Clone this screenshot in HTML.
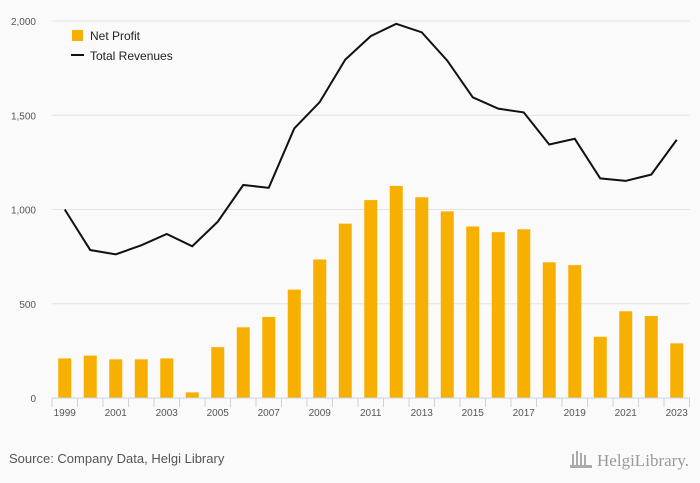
<!DOCTYPE html>
<html><head><meta charset="utf-8"><style>
body{margin:0;background:#fafafa;font-family:"Liberation Sans",sans-serif;}
</style></head><body>
<svg id="c" width="700" height="483" style="display:block">
<rect width="700" height="483" fill="#fafafa"/>
<g id="grid"></g><g id="bars"></g><g id="axis"></g><g id="line"></g>
<g>
<rect x="72" y="30" width="11" height="11" fill="#f7b000"/>
<text x="90" y="40" font-size="12" fill="#222">Net Profit</text>
<line x1="71" y1="55" x2="84" y2="55" stroke="#111" stroke-width="2"/>
<text x="90" y="60" font-size="12" fill="#222">Total Revenues</text>
</g>
<text x="9" y="463" font-size="13" fill="#555">Source: Company Data, Helgi Library</text>
<text x="597" y="466" font-size="17" fill="#999" font-family="Liberation Serif,serif" textLength="92">HelgiLibrary.</text>
<g fill="#aaa"><rect x="572" y="454" width="2" height="12"/><rect x="576" y="451" width="2" height="15"/><rect x="580" y="453" width="2" height="13"/><rect x="584" y="455" width="2" height="11"/><rect x="570" y="465" width="22" height="3"/></g>
</svg>
<script>
const years=[1999,2000,2001,2002,2003,2004,2005,2006,2007,2008,2009,2010,2011,2012,2013,2014,2015,2016,2017,2018,2019,2020,2021,2022,2023];
const netProfit=[210,225,205,205,210,30,270,375,430,575,735,925,1050,1125,1065,990,910,880,895,720,705,325,460,435,290];
const revenues=[1000,785,762,810,870,805,935,1130,1115,1430,1570,1795,1920,1985,1940,1790,1595,1535,1515,1345,1375,1165,1152,1185,1370];
const yTicks=[0,500,1000,1500,2000];
const yTickLabels=["0","500","1,000","1,500","2,000"];
const NS="http://www.w3.org/2000/svg";
const x0=52,bw=25.5,y0=398,ppu=377/2000;
const X=i=>x0+bw*(i+0.5), Y=v=>y0-v*ppu;
function mk(t,a,p){const e=document.createElementNS(NS,t);for(const k in a)e.setAttribute(k,a[k]);p.appendChild(e);return e;}
const grid=document.getElementById('grid'),bars=document.getElementById('bars'),axis=document.getElementById('axis'),line=document.getElementById('line');
yTicks.forEach((v,i)=>{
 if(v>0){const g=mk('line',{x1:x0,x2:690,y1:Y(v),y2:Y(v),stroke:'#e4e4e4'},grid);
 
 }
 const t=mk('text',{x:36,y:Y(v)+4,'text-anchor':'end','font-size':10,fill:'#555'},axis);t.textContent=yTickLabels[i];
 
 
});
netProfit.forEach((v,i)=>{
 const r=mk('rect',{x:X(i)-6.5,y:Y(v),width:13,height:v*ppu,fill:'#f7b000'},bars);
 
 
});
const ax=mk('line',{x1:x0,x2:x0+bw*years.length,y1:y0,y2:y0,stroke:'#c8d3e6'},axis);


for(let i=0;i<=years.length;i++){const t=mk('line',{x1:x0+bw*i,x2:x0+bw*i,y1:y0,y2:y0+9,stroke:'#c8d3e6'},axis);
 
 }
years.forEach((yr,i)=>{if(i%2==0){const t=mk('text',{x:X(i),y:y0+18,'text-anchor':'middle','font-size':10,fill:'#555'},axis);t.textContent=yr;
 
 }});
const p=mk('polyline',{points:revenues.map((v,i)=>X(i)+','+Y(v)).join(' '),fill:'none',stroke:'#111','stroke-width':2},line);


</script>
</body></html>
